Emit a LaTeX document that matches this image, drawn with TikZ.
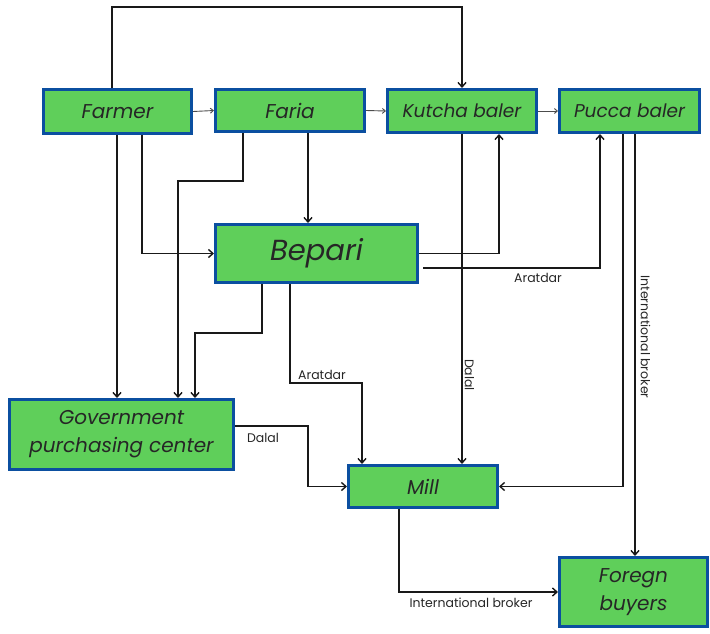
\documentclass[tikz,border=0pt]{standalone}
\usepackage{fontspec}
\setmainfont{Poppins}
\usetikzlibrary{arrows.meta}
\definecolor{boxgreen}{HTML}{5FCF5A}
\definecolor{boxblue}{HTML}{0B4FA0}
\tikzset{
  box/.style={draw=boxblue, line width=3pt, fill=boxgreen, inner sep=0pt,
    font=\fontsize{20}{24}\selectfont\itshape, align=center, text=black!85},
  smallbox/.style={box, font=\fontsize{18.5}{22}\selectfont\itshape},
  arr/.style={line width=1.6pt, draw=black!90, -{Straight Barb[length=4.5pt,width=8pt,line width=1.4pt]}},
  tarr/.style={line width=0.9pt, draw=black!70, -{Straight Barb[length=3pt,width=5pt]}},
  lab/.style={font=\fontsize{12.5}{14}\selectfont, text=black!85, inner sep=0pt}
}
\begin{document}
\begin{tikzpicture}[x=1pt,y=-1pt]
\useasboundingbox (0,0) rectangle (710,634);
\node[box, minimum width=148pt, minimum height=43pt] (farmer) at (117.5,111.5) {Farmer};
\node[box, minimum width=149pt, minimum height=42pt] (faria) at (290,110.5) {Faria};
\node[smallbox, minimum width=149pt, minimum height=43pt] (kutcha) at (462,111) {Kutcha baler};
\node[smallbox, minimum width=140pt, minimum height=43pt] (pucca) at (629.5,111) {Pucca baler};
\node[box, minimum width=202pt, minimum height=58pt, font=\fontsize{29}{32}\selectfont\itshape] (bepari) at (316.5,253.5) {Bepari};
\node[box, minimum width=224pt, minimum height=70pt] (gov) at (121.5,434.5) {Government\\[4pt]purchasing center};
\node[box, minimum width=149pt, minimum height=42pt] (mill) at (423,486.5) {Mill};
\node[box, minimum width=148pt, minimum height=69pt] (foregn) at (633.5,592) {Foregn\\[4pt]buyers};
\coordinate (bp) at (423,268);

\draw[arr] (farmer.north -| 112,0) -- (112,7) -| (kutcha.north);
\draw[tarr] (farmer.east) -- (faria.west);
\draw[tarr] (faria.east) -- (kutcha.west);
\draw[tarr] (kutcha.east) -- (pucca.west);
\draw[arr] (farmer.south -| 117,0) -- (gov.north -| 117,0);
\draw[arr] (farmer.south -| 142,0) |- (bepari.west);
\draw[arr] (faria.south -| 243,0) |- (178,181) -- (gov.north -| 178,0);
\draw[arr] (faria.south -| 308,0) -- (bepari.north -| 308,0);
\draw[arr] (bepari.south -| 262,0) |- (195,333) -- (gov.north -| 195,0);
\draw[arr] (bepari.south -| 290,0) |- (362,383) -- (mill.north -| 362,0);
\node[lab] at (322,375) {Aratdar};
\draw[arr] (bepari.east) -| (kutcha.south -| 499,0);
\draw[arr] (bp) -| (pucca.south -| 600,0);
\node[lab] at (538,278) {Aratdar};
\draw[arr] (kutcha.south) -- (mill.north -| 462,0);
\node[lab, rotate=-90] at (469.5,375) {Dalal};
\draw[arr] (pucca.south -| 623,0) |- (mill.east);
\draw[arr] (pucca.south -| 635,0) -- (foregn.north -| 635,0);
\node[lab, rotate=-90] at (645.5,337) {International broker};
\draw[arr] (gov.east |- 0,426) -- (308,426) |- (mill.west);
\node[lab] at (263,438) {Dalal};
\draw[arr] (mill.south -| 399,0) |- (foregn.west);
\node[lab] at (471,603) {International broker};
\end{tikzpicture}
\end{document}
